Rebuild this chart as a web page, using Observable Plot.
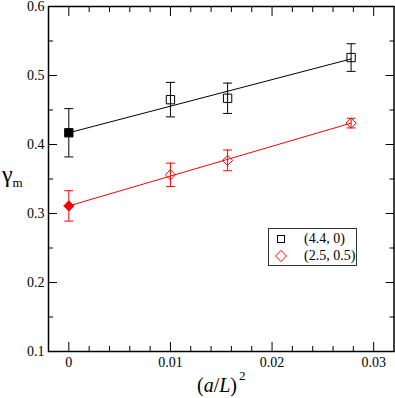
<!DOCTYPE html>
<html><head><meta charset="utf-8">
<script src="https://cdn.jsdelivr.net/npm/d3@7"></script>
<script src="https://cdn.jsdelivr.net/npm/@observablehq/plot@0.6"></script>
<style>
body{margin:0;background:#fff;}
#chart{position:relative;width:395px;height:398px;font-family:"Liberation Serif","Times New Roman",serif;}
#legend{position:absolute;left:268px;top:228px;width:89px;height:38px;border:1.3px solid #333;background:#fff;box-sizing:border-box;font-size:14px;}
#legend .row{position:absolute;left:0;height:17px;line-height:17px;}
#legend svg{position:absolute;left:5px;top:2px;}
#legend span{position:absolute;left:35px;top:0;white-space:nowrap;}
</style>
</head><body><div id="chart"><div id="legend"></div></div>
<script>
// data
const xs = [0, 0.01, 0.015625, 0.027778];
const blackY = [0.417, 0.465, 0.467, 0.526];
const blackErr = [0.035, 0.025, 0.022, 0.020];
const redY = [0.311, 0.356, 0.377, 0.431];
const redErr = [0.022, 0.017, 0.015, 0.007];
const fitX = [0, 0.027778];
const blackFit = [0.417, 0.524];
const redFit = [0.311, 0.431];
const seriesNames = ["(4.4, 0)", "(2.5, 0.5)"];
const xTicks = [0, 0.01, 0.02, 0.03];
const xMinor = [0.002, 0.004, 0.006, 0.008, 0.012, 0.014, 0.016, 0.018, 0.022, 0.024, 0.026, 0.028];
const yTicks = [0.1, 0.2, 0.3, 0.4, 0.5, 0.6];
const yMinor = [0.15, 0.25, 0.35, 0.45, 0.55];

const mk = (ys, es, s) => xs.map((x, i) => ({x, y: ys[i], e: es[i], s, filled: x === 0}));
const pts = [...mk(blackY, blackErr, 0), ...mk(redY, redErr, 1)];
const fits = [
  ...fitX.map((x, i) => ({x, y: blackFit[i], s: 0})),
  ...fitX.map((x, i) => ({x, y: redFit[i], s: 1}))
];
const colors = ["#000", "#ff0000"];
const capSym = {draw(ctx) { ctx.moveTo(-4.5, 0); ctx.lineTo(4.5, 0); }};
const hid = () => "";
const FONT = "'Liberation Serif', 'Times New Roman', serif";

const plot = Plot.plot({
  width: 395, height: 398,
  marginLeft: 48, marginRight: 1.5, marginTop: 6, marginBottom: 47,
  x: {domain: [-0.002, 0.032], label: null},
  y: {domain: [0.1, 0.6], label: null},
  style: {fontFamily: FONT, fontSize: "14px", color: "#000", background: "#fff"},
  marks: [
    Plot.line(fits, {x: "x", y: "y", z: "s", stroke: d => colors[d.s], strokeWidth: 1}),
    Plot.ruleX(pts, {x: "x", y1: d => d.y - d.e, y2: d => d.y + d.e, stroke: d => colors[d.s], strokeWidth: 1}),
    Plot.dot(pts, {x: "x", y: d => d.y - d.e, symbol: capSym, stroke: d => colors[d.s], strokeWidth: 1}),
    Plot.dot(pts, {x: "x", y: d => d.y + d.e, symbol: capSym, stroke: d => colors[d.s], strokeWidth: 1}),
    Plot.dot(pts.filter(d => d.s === 0), {x: "x", y: "y", symbol: "square", r: 4.7, stroke: "#000", strokeWidth: 1, fill: d => d.filled ? "#000" : "none"}),
    Plot.dot(pts.filter(d => d.s === 1), {x: "x", y: "y", symbol: "diamond2", r: 4.6, stroke: "#ff0000", strokeWidth: 1, fill: d => d.filled ? "#ff0000" : "none"}),
    Plot.frame({stroke: "#000", strokeWidth: 1.5}),
    Plot.axisX(xTicks, {anchor: "bottom", tickSize: -9, tickPadding: 15, tickFormat: d => String(d), label: null}),
    Plot.axisX(xMinor, {anchor: "bottom", tickSize: -5, tickFormat: hid, label: null}),
    Plot.axisX(xTicks, {anchor: "top", tickSize: -9, tickFormat: hid, label: null}),
    Plot.axisX(xMinor, {anchor: "top", tickSize: -5, tickFormat: hid, label: null}),
    Plot.axisY(yTicks, {anchor: "left", tickSize: -9, tickPadding: 13, tickFormat: d => d.toFixed(1), label: null}),
    Plot.axisY(yMinor, {anchor: "left", tickSize: -5, tickFormat: hid, label: null}),
    Plot.axisY(yTicks, {anchor: "right", tickSize: -9, tickFormat: hid, label: null}),
    Plot.axisY(yMinor, {anchor: "right", tickSize: -5, tickFormat: hid, label: null})
  ]
});
document.getElementById("chart").prepend(plot);

const svg = d3.select(plot);
const yl = svg.append("text").attr("x", 2).attr("y", 182).attr("text-anchor", "start").attr("font-family", FONT).attr("fill", "#000");
yl.append("tspan").attr("font-size", 24).text("γ");
yl.append("tspan").attr("font-size", 13).attr("dy", 5).text("m");
const xl = svg.append("text").attr("x", 197).attr("y", 392).attr("text-anchor", "start").attr("font-family", FONT).attr("font-size", 20).attr("fill", "#000");
xl.append("tspan").text("(");
xl.append("tspan").attr("font-style", "italic").text("a");
xl.append("tspan").text("/");
xl.append("tspan").attr("font-style", "italic").text("L");
xl.append("tspan").text(")");
xl.append("tspan").attr("font-size", 13).attr("dy", -12).attr("dx", 2).text("2");

// legend
const leg = d3.select("#legend");
seriesNames.forEach((name, i) => {
  const row = leg.append("div").attr("class", "row").style("top", (i * 17 + 1) + "px").style("width", "88px");
  const s = row.append("svg").attr("width", 14).attr("height", 14);
  if (i === 0) s.append("rect").attr("x", 3.5).attr("y", 3.5).attr("width", 7).attr("height", 7).attr("fill", "none").attr("stroke", colors[0]);
  else s.append("path").attr("d", "M7,1.5L12.5,7L7,12.5L1.5,7Z").attr("fill", "none").attr("stroke", colors[1]);
  row.append("span").text(name);
});
</script>
</body></html>
